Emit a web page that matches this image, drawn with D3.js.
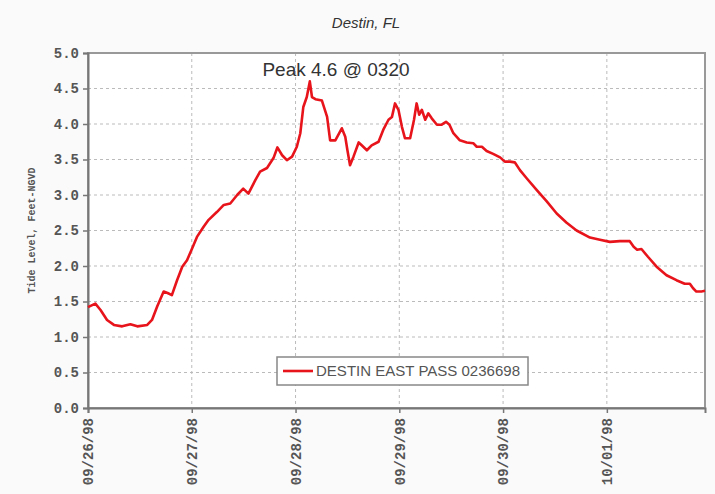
<!DOCTYPE html>
<html>
<head>
<meta charset="utf-8">
<script src="https://cdn.jsdelivr.net/npm/d3@7"></script>
<style>
body{margin:0;background:#fafafa;}
</style>
</head>
<body>
<svg id="chart" width="715" height="494"></svg>
<script>
// data, hours counted from 09/26/98 00:00
let start = new Date(1998, 8, 26);
let hours = [0, 1.7, 2.9, 4.4, 6.0, 7.9, 9.8, 11.4, 13.7, 14.8, 16.0, 17.5, 18.4, 19.4, 20.6, 21.8, 22.9,
    24.1, 25.2, 26.7, 27.9, 29.8, 31.4, 32.9, 34.5, 35.9, 37.1, 38.7, 39.8, 41.4, 42.9, 43.8, 44.9, 46.0, 47.2,
    48.3, 49.1, 49.8, 50.6, 51.3, 51.8, 52.6, 54.1, 55.3, 56.0, 57.2, 58.7, 59.5, 60.0, 60.6, 61.4, 62.6, 63.3,
    64.5, 65.6, 67.2, 68.3, 69.5, 70.3, 71.0, 71.8, 72.6, 73.3, 74.5, 75.4, 76.0, 76.6, 77.2, 78.0, 78.7, 79.5,
    80.7, 81.8, 82.8, 83.6, 84.5, 86.0, 87.6, 89.1, 89.9, 91.1, 92.2, 93.7, 95.3, 96.4, 97.6, 98.7, 99.9,
    101.4, 103.8, 106.1, 108.4, 110.7, 113.0, 116.1, 118.4, 120.7, 123.0, 125.3, 126.2, 127.0, 128.0, 129.5,
    131.5, 133.8, 136.1, 138.0, 139.2, 139.9, 140.7, 141.9, 142.7];
let levels = [1.42, 1.47, 1.38, 1.24, 1.17, 1.15, 1.18, 1.15, 1.17, 1.24, 1.43, 1.64, 1.62, 1.59, 1.80, 1.99, 2.08,
    2.25, 2.41, 2.55, 2.65, 2.76, 2.86, 2.88, 3.00, 3.09, 3.02, 3.21, 3.33, 3.38, 3.52, 3.67, 3.56, 3.49, 3.54,
    3.68, 3.87, 4.24, 4.38, 4.60, 4.38, 4.35, 4.33, 4.10, 3.77, 3.77, 3.94, 3.82, 3.63, 3.42, 3.54, 3.74, 3.70,
    3.63, 3.70, 3.75, 3.92, 4.06, 4.10, 4.29, 4.20, 3.96, 3.80, 3.80, 4.06, 4.29, 4.13, 4.20, 4.06, 4.15, 4.08,
    3.99, 3.99, 4.03, 3.99, 3.87, 3.77, 3.74, 3.73, 3.68, 3.68, 3.62, 3.58, 3.53, 3.47, 3.47, 3.46, 3.35,
    3.24, 3.07, 2.91, 2.74, 2.61, 2.50, 2.40, 2.37, 2.34, 2.35, 2.35, 2.27, 2.23, 2.24, 2.13,
    1.99, 1.87, 1.80, 1.75, 1.75, 1.69, 1.64, 1.64, 1.65];
let yTicks = [0, 0.5, 1, 1.5, 2, 2.5, 3, 3.5, 4, 4.5, 5];
let title = 'Destin, FL';
let yTitle = 'Tide Level, Feet-NGVD';
let seriesName = 'DESTIN EAST PASS 0236698';
let peakLabel = 'Peak 4.6 @ 0320';

let width = 715, height = 494;
let margin = {top:53, right:10, bottom:86, left:88};
let w = width - margin.left - margin.right, h = height - margin.top - margin.bottom;

let points = hours.map((hr,i)=>({t:new Date(start.getTime() + hr*3600e3), v:levels[i]}));

let svg = d3.select('#chart');
let g = svg.append('g').attr('transform', `translate(${margin.left},${margin.top})`);

let x = d3.scaleTime().domain(d3.extent(points, d=>d.t)).range([0, w]);
let y = d3.scaleLinear().domain([0, 5]).range([h, 0]);

g.append('rect').attr('width', w).attr('height', h).attr('fill', '#fff');

// grid
let dayTicks = d3.timeDay.range(start, x.domain()[1]);
g.append('g').selectAll('line').data(yTicks.slice(1)).join('line')
    .attr('x1', 0).attr('x2', w).attr('y1', d=>y(d)).attr('y2', d=>y(d))
    .attr('stroke', '#bbb').attr('stroke-dasharray', '3,3');
g.append('g').selectAll('line').data(dayTicks.slice(1)).join('line')
    .attr('x1', d=>x(d)).attr('x2', d=>x(d)).attr('y1', 0).attr('y2', h)
    .attr('stroke', '#bbb').attr('stroke-dasharray', '3,3');

// frame
g.append('rect').attr('width', w).attr('height', h).attr('fill', 'none')
    .attr('stroke', '#999').attr('stroke-width', 2);

// axes
let yAxis = g.append('g').call(d3.axisLeft(y).tickValues(yTicks).tickFormat(d3.format('.1f')).tickSize(5).tickPadding(4));
let xAxis = g.append('g').attr('transform', `translate(0,${h})`)
    .call(d3.axisBottom(x).tickValues(dayTicks).tickFormat(d3.timeFormat('%m/%d/%y')).tickSize(5));
[yAxis, xAxis].forEach(a=>{
    a.select('.domain').attr('stroke', '#777').attr('stroke-width', 2);
    a.selectAll('.tick line').attr('stroke', '#777').attr('stroke-width', 1.5);
    a.selectAll('text').attr('font-family', '"Liberation Mono", monospace').attr('font-weight', 'bold')
        .attr('font-size', 14).attr('fill', '#555');
});
xAxis.selectAll('text').attr('transform', 'rotate(-90)').attr('text-anchor', 'end')
    .attr('x', -10).attr('y', 0).attr('dy', '0.35em');

// series
g.append('path').datum(points)
    .attr('d', d3.line().x(d=>x(d.t)).y(d=>y(d.v)))
    .attr('fill', 'none').attr('stroke', '#e8141c').attr('stroke-width', 2.6)
    .attr('stroke-linejoin', 'round');

// peak annotation
g.append('text').attr('x', 248).attr('y', 23).attr('text-anchor', 'middle')
    .attr('font-family', '"Liberation Sans", Arial, sans-serif').attr('font-size', 19)
    .attr('fill', '#333').text(peakLabel);

// legend
let lg = g.append('g').attr('transform', 'translate(189,304)');
lg.append('rect').attr('width', 251).attr('height', 28).attr('fill', '#fff')
    .attr('stroke', '#888').attr('stroke-width', 1.5);
lg.append('line').attr('x1', 6).attr('x2', 36).attr('y1', 14).attr('y2', 14)
    .attr('stroke', '#e8141c').attr('stroke-width', 2.6);
lg.append('text').attr('x', 39).attr('y', 14).attr('dy', '0.35em')
    .attr('font-family', '"Liberation Sans", Arial, sans-serif').attr('font-size', 14)
    .attr('textLength', 204).attr('lengthAdjust', 'spacingAndGlyphs').attr('fill', '#555').text(seriesName);

// titles
svg.append('text').attr('x', 366).attr('y', 28).attr('text-anchor', 'middle')
    .attr('font-family', '"Liberation Sans", Arial, sans-serif').attr('font-style', 'italic')
    .attr('font-size', 15).attr('fill', '#333').text(title);
svg.append('text').attr('transform', `translate(35,${margin.top + h/2}) rotate(-90)`)
    .attr('text-anchor', 'middle').attr('font-family', '"Liberation Mono", monospace')
    .attr('font-weight', 'bold').attr('font-size', 10).attr('fill', '#555').text(yTitle);
</script>
</body>
</html>
